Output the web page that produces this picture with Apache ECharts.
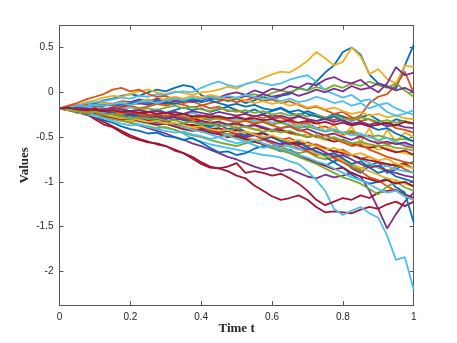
<!DOCTYPE html>
<html>
<head>
<meta charset="utf-8">
<script src="https://cdn.jsdelivr.net/npm/echarts@6/dist/echarts.min.js"></script>
<style>
  html, body { margin: 0; padding: 0; background: #fff; }
  #chart { width: 457px; height: 343px; }
</style>
</head>
<body>
<div id="chart"></div>
<script>
// sample times shared by every path
var times = [0,0.025,0.05,0.075,0.1,0.125,0.15,0.175,0.2,0.225,
             0.25,0.275,0.3,0.325,0.35,0.375,0.4,0.425,0.45,0.475,
             0.5,0.525,0.55,0.575,0.6,0.625,0.65,0.675,0.7,0.725,
             0.75,0.775,0.8,0.825,0.85,0.875,0.9,0.925,0.95,0.975,1];

var yTicks = [-2, -1.5, -1, -0.5, 0, 0.5];

// paths, grouped by matlab colour order
var bluePaths = [
  [-0.18,-0.17,-0.15,-0.12,-0.13,-0.09,-0.07,-0.04,-0.02,-0.04, 0.0,0.03,0.01,0.05,0.08,0.06,-0.03,-0.08,-0.06,-0.1, -0.07,-0.12,-0.09,-0.05,-0.08,-0.04,-0.02,0.05,0.02,0.12, 0.22,0.3,0.45,0.5,0.42,0.2,0.1,0.07,0.04,0.3, 0.53],
  [-0.18,-0.2,-0.18,-0.21,-0.19,-0.22,-0.2,-0.23,-0.21,-0.24, -0.22,-0.19,-0.23,-0.2,-0.17,-0.2,-0.18,-0.22,-0.19,-0.16, -0.2,-0.23,-0.19,-0.24,-0.21,-0.18,-0.23,-0.26,-0.21,-0.25, -0.29,-0.24,-0.27,-0.32,-0.28,-0.25,-0.31,-0.36,-0.3,-0.33, -0.35],
  [-0.18,-0.2,-0.22,-0.25,-0.27,-0.31,-0.34,-0.38,-0.41,-0.43, -0.46,-0.45,-0.49,-0.5,-0.53,-0.51,-0.56,-0.62,-0.67,-0.66, -0.7,-0.68,-0.63,-0.6,-0.62,-0.66,-0.64,-0.7,-0.74,-0.78, -0.82,-0.77,-0.74,-0.85,-0.9,-0.82,-0.78,-0.9,-0.86,-0.8, -0.78],
  [-0.18,-0.17,-0.19,-0.18,-0.21,-0.2,-0.23,-0.22,-0.25,-0.24, -0.27,-0.3,-0.28,-0.31,-0.29,-0.33,-0.35,-0.38,-0.36,-0.41, -0.39,-0.44,-0.47,-0.45,-0.5,-0.53,-0.57,-0.55,-0.62,-0.66, -0.72,-0.78,-0.84,-0.92,-0.98,-1.02,-1.0,-0.96,-1.06,-1.12, -1.45],
  [-0.18,-0.2,-0.22,-0.2,-0.23,-0.25,-0.24,-0.27,-0.26,-0.29, -0.31,-0.29,-0.33,-0.36,-0.34,-0.38,-0.36,-0.4,-0.43,-0.41, -0.45,-0.48,-0.46,-0.52,-0.5,-0.55,-0.58,-0.56,-0.61,-0.66, -0.7,-0.68,-0.74,-0.8,-0.77,-0.84,-0.9,-0.87,-0.94,-0.97, -1.0],
  [-0.18,-0.17,-0.15,-0.16,-0.14,-0.15,-0.13,-0.14,-0.12,-0.1, -0.12,-0.09,-0.11,-0.13,-0.1,-0.08,-0.11,-0.09,-0.12,-0.15, -0.13,-0.16,-0.14,-0.18,-0.2,-0.17,-0.22,-0.2,-0.24,-0.27, -0.3,-0.27,-0.32,-0.36,-0.33,-0.38,-0.42,-0.4,-0.46,-0.5, -0.55]
];
var orangePaths = [
  [-0.18,-0.19,-0.21,-0.19,-0.22,-0.24,-0.22,-0.25,-0.23,-0.26, -0.28,-0.26,-0.29,-0.27,-0.3,-0.32,-0.29,-0.31,-0.28,-0.3, -0.27,-0.3,-0.26,-0.29,-0.25,-0.28,-0.31,-0.27,-0.3,-0.33, -0.28,-0.31,-0.27,-0.3,-0.26,-0.12,-0.05,-0.02,0.08,0.23, -0.01],
  [-0.18,-0.15,-0.12,-0.08,-0.05,-0.02,0.03,0.05,0.01,0.03, -0.02,-0.05,-0.04,-0.09,-0.12,-0.1,-0.14,-0.18,-0.16,-0.21, -0.2,-0.24,-0.27,-0.25,-0.3,-0.28,-0.33,-0.36,-0.34,-0.4, -0.38,-0.43,-0.47,-0.45,-0.5,-0.48,-0.54,-0.58,-0.56,-0.6, -0.62],
  [-0.18,-0.2,-0.23,-0.22,-0.25,-0.27,-0.26,-0.29,-0.31,-0.3, -0.33,-0.35,-0.34,-0.37,-0.39,-0.38,-0.42,-0.4,-0.44,-0.47, -0.45,-0.48,-0.46,-0.5,-0.49,-0.53,-0.51,-0.56,-0.6,-0.58, -0.62,-0.66,-0.64,-0.7,-0.74,-0.72,-0.78,-0.82,-0.8,-0.86, -0.9],
  [-0.18,-0.19,-0.21,-0.24,-0.26,-0.25,-0.28,-0.3,-0.32,-0.31, -0.34,-0.36,-0.35,-0.38,-0.41,-0.4,-0.44,-0.43,-0.46,-0.5, -0.48,-0.52,-0.55,-0.53,-0.57,-0.6,-0.58,-0.63,-0.66,-0.7, -0.68,-0.74,-0.78,-0.84,-0.88,-0.95,-0.98,-1.05,-1.1,-1.16, -1.2],
  [-0.18,-0.16,-0.17,-0.14,-0.16,-0.13,-0.15,-0.17,-0.15,-0.18, -0.16,-0.13,-0.15,-0.12,-0.14,-0.17,-0.15,-0.12,-0.1,-0.08, -0.11,-0.09,-0.06,-0.1,-0.08,-0.12,-0.1,-0.14,-0.18,-0.16, -0.2,-0.24,-0.22,-0.28,-0.32,-0.3,-0.36,-0.34,-0.4,-0.42, -0.45],
  [-0.18,-0.2,-0.19,-0.21,-0.2,-0.18,-0.21,-0.23,-0.22,-0.24, -0.26,-0.24,-0.27,-0.25,-0.28,-0.3,-0.27,-0.25,-0.28,-0.31, -0.34,-0.32,-0.35,-0.33,-0.37,-0.4,-0.38,-0.42,-0.45,-0.5, -0.48,-0.52,-0.56,-0.6,-0.58,-0.64,-0.68,-0.72,-0.75,-0.78, -0.8]
];
var yellowPaths = [
  [-0.18,-0.16,-0.14,-0.11,-0.09,-0.06,-0.04,-0.05,-0.02,0.01, 0.03,0.0,-0.02,0.01,-0.01,-0.03,0.0,0.01,0.03,0.06, 0.04,0.09,0.12,0.16,0.2,0.23,0.22,0.28,0.35,0.45, 0.38,0.3,0.34,0.5,0.4,0.2,0.26,0.15,0.1,0.3, 0.28],
  [-0.18,-0.19,-0.21,-0.2,-0.23,-0.22,-0.25,-0.24,-0.27,-0.25, -0.28,-0.26,-0.29,-0.27,-0.31,-0.28,-0.3,-0.27,-0.31,-0.29, -0.33,-0.3,-0.34,-0.31,-0.36,-0.33,-0.38,-0.35,-0.4,-0.32, -0.44,-0.36,-0.5,-0.38,-0.56,-0.4,-0.6,-0.42,-0.55,-0.45, -0.5],
  [-0.18,-0.19,-0.18,-0.2,-0.22,-0.21,-0.23,-0.25,-0.24,-0.22, -0.25,-0.27,-0.26,-0.29,-0.31,-0.3,-0.33,-0.35,-0.34,-0.37, -0.36,-0.39,-0.42,-0.4,-0.44,-0.43,-0.46,-0.48,-0.47,-0.5, -0.53,-0.51,-0.55,-0.58,-0.56,-0.6,-0.64,-0.62,-0.66,-0.68, -0.7],
  [-0.18,-0.2,-0.22,-0.24,-0.26,-0.25,-0.28,-0.3,-0.32,-0.31, -0.34,-0.36,-0.35,-0.38,-0.4,-0.39,-0.42,-0.45,-0.44,-0.47, -0.46,-0.5,-0.53,-0.52,-0.55,-0.58,-0.6,-0.59,-0.64,-0.68, -0.72,-0.7,-0.76,-0.8,-0.84,-0.88,-0.92,-0.96,-0.98,-1.02, -1.05],
  [-0.18,-0.17,-0.15,-0.16,-0.14,-0.12,-0.13,-0.11,-0.12,-0.1, -0.08,-0.1,-0.07,-0.05,-0.07,-0.04,-0.06,-0.03,-0.05,-0.08, -0.06,-0.09,-0.12,-0.1,-0.13,-0.11,-0.15,-0.13,-0.17,-0.15, -0.19,-0.17,-0.21,-0.24,-0.22,-0.26,-0.24,-0.28,-0.26,-0.29, -0.3],
  [-0.18,-0.2,-0.21,-0.23,-0.22,-0.25,-0.27,-0.29,-0.28,-0.31, -0.33,-0.32,-0.35,-0.34,-0.37,-0.39,-0.38,-0.41,-0.43,-0.42, -0.45,-0.44,-0.47,-0.5,-0.48,-0.52,-0.55,-0.53,-0.57,-0.6, -0.64,-0.62,-0.66,-0.7,-0.68,-0.72,-0.76,-0.74,-0.8,-0.82, -0.85]
];
var purplePaths = [
  [-0.18,-0.17,-0.19,-0.21,-0.23,-0.26,-0.28,-0.31,-0.34,-0.37, -0.4,-0.43,-0.46,-0.5,-0.53,-0.57,-0.6,-0.64,-0.68,-0.72, -0.75,-0.79,-0.83,-0.86,-0.84,-0.88,-0.86,-0.9,-0.94,-0.96, -0.92,-0.95,-0.93,-0.9,-0.94,-1.1,-1.3,-1.52,-1.36,-1.22, -1.12],
  [-0.18,-0.17,-0.15,-0.16,-0.14,-0.12,-0.13,-0.1,-0.11,-0.08, -0.1,-0.07,-0.09,-0.06,-0.08,-0.1,-0.07,-0.04,-0.06,-0.02, 0.0,-0.03,0.02,-0.01,0.04,0.02,0.07,0.05,0.1,0.08, 0.14,0.17,0.12,0.1,0.14,0.06,0.0,0.1,0.28,0.19, 0.22],
  [-0.18,-0.19,-0.17,-0.16,-0.18,-0.15,-0.14,-0.16,-0.13,-0.12, -0.14,-0.11,-0.13,-0.1,-0.08,-0.11,-0.09,-0.06,-0.08,-0.05, -0.07,-0.04,-0.06,-0.02,-0.05,-0.03,0.0,-0.04,-0.01,0.03, 0.0,0.04,0.01,0.07,0.03,0.05,0.1,0.06,0.02,0.05, 0.0],
  [-0.18,-0.2,-0.21,-0.2,-0.23,-0.22,-0.24,-0.26,-0.25,-0.27, -0.29,-0.28,-0.3,-0.27,-0.31,-0.33,-0.32,-0.35,-0.33,-0.36, -0.34,-0.38,-0.36,-0.39,-0.42,-0.4,-0.38,-0.43,-0.41,-0.45, -0.48,-0.46,-0.5,-0.53,-0.49,-0.54,-0.57,-0.55,-0.58,-0.56, -0.6],
  [-0.18,-0.17,-0.2,-0.22,-0.24,-0.23,-0.26,-0.28,-0.3,-0.29, -0.32,-0.34,-0.33,-0.36,-0.38,-0.37,-0.4,-0.42,-0.45,-0.43, -0.47,-0.5,-0.48,-0.52,-0.55,-0.58,-0.56,-0.6,-0.64,-0.62, -0.67,-0.72,-0.7,-0.75,-0.8,-0.84,-0.82,-0.88,-0.9,-0.93, -0.95],
  [-0.18,-0.19,-0.17,-0.18,-0.2,-0.19,-0.17,-0.19,-0.21,-0.2, -0.22,-0.21,-0.23,-0.22,-0.24,-0.21,-0.23,-0.25,-0.22,-0.24, -0.26,-0.24,-0.27,-0.25,-0.28,-0.26,-0.29,-0.27,-0.3,-0.32, -0.3,-0.33,-0.31,-0.35,-0.33,-0.36,-0.34,-0.38,-0.36,-0.39, -0.4]
];
var greenPaths = [
  [-0.18,-0.17,-0.16,-0.17,-0.15,-0.14,-0.15,-0.13,-0.12,-0.13, -0.11,-0.12,-0.1,-0.09,-0.11,-0.08,-0.09,-0.06,-0.08,-0.05, -0.07,-0.04,-0.02,-0.05,-0.01,0.02,0.0,0.04,0.02,0.06, 0.03,0.08,0.05,0.1,0.07,0.12,0.08,0.05,0.1,0.02, -0.05],
  [-0.18,-0.19,-0.21,-0.2,-0.22,-0.24,-0.23,-0.21,-0.23,-0.25, -0.27,-0.25,-0.23,-0.25,-0.27,-0.26,-0.28,-0.3,-0.29,-0.31, -0.28,-0.32,-0.34,-0.33,-0.36,-0.34,-0.37,-0.4,-0.38,-0.41, -0.44,-0.42,-0.45,-0.43,-0.47,-0.5,-0.48,-0.51,-0.53,-0.52, -0.55],
  [-0.18,-0.2,-0.22,-0.24,-0.26,-0.28,-0.3,-0.32,-0.34,-0.36, -0.38,-0.4,-0.39,-0.42,-0.45,-0.48,-0.5,-0.53,-0.56,-0.58, -0.6,-0.57,-0.55,-0.58,-0.62,-0.6,-0.65,-0.68,-0.66,-0.72, -0.75,-0.72,-0.78,-0.82,-0.86,-0.8,-0.84,-0.88,-0.83,-0.78, -0.8],
  [-0.18,-0.19,-0.18,-0.2,-0.22,-0.24,-0.26,-0.25,-0.28,-0.3, -0.29,-0.32,-0.34,-0.36,-0.38,-0.37,-0.4,-0.42,-0.44,-0.47, -0.5,-0.53,-0.55,-0.58,-0.62,-0.65,-0.68,-0.72,-0.76,-0.8, -0.85,-0.9,-0.95,-0.98,-1.02,-1.08,-1.14,-1.05,-1.0,-1.06, -1.1],
  [-0.18,-0.17,-0.19,-0.18,-0.2,-0.19,-0.17,-0.19,-0.21,-0.19, -0.18,-0.2,-0.17,-0.15,-0.18,-0.16,-0.19,-0.21,-0.18,-0.2, -0.22,-0.2,-0.23,-0.21,-0.25,-0.23,-0.26,-0.24,-0.27,-0.25, -0.28,-0.26,-0.29,-0.31,-0.28,-0.3,-0.33,-0.31,-0.34,-0.32, -0.35],
  [-0.18,-0.19,-0.21,-0.23,-0.22,-0.25,-0.24,-0.27,-0.29,-0.28, -0.3,-0.29,-0.32,-0.31,-0.34,-0.33,-0.36,-0.35,-0.38,-0.37, -0.4,-0.38,-0.41,-0.44,-0.42,-0.45,-0.43,-0.47,-0.5,-0.48, -0.52,-0.5,-0.54,-0.57,-0.55,-0.58,-0.6,-0.59,-0.62,-0.63, -0.65]
];
var lightBluePaths = [
  [-0.18,-0.17,-0.15,-0.13,-0.11,-0.1,-0.08,-0.06,-0.07,-0.04, -0.05,-0.02,-0.03,0.0,0.01,0.0,0.05,0.09,0.12,0.08, 0.06,0.09,0.12,0.1,0.08,0.1,0.14,0.17,0.19,0.12, 0.02,-0.02,-0.06,-0.03,-0.1,-0.08,-0.14,-0.12,-0.18,-0.22, -0.25],
  [-0.18,-0.19,-0.21,-0.22,-0.24,-0.25,-0.27,-0.29,-0.31,-0.33, -0.35,-0.37,-0.4,-0.42,-0.46,-0.52,-0.55,-0.58,-0.6,-0.62, -0.64,-0.66,-0.68,-0.7,-0.71,-0.73,-0.77,-0.8,-0.88,-0.98, -1.1,-1.3,-1.37,-1.32,-1.28,-1.35,-1.4,-1.6,-1.87,-1.84, -2.2],
  [-0.18,-0.17,-0.19,-0.18,-0.16,-0.18,-0.2,-0.19,-0.17,-0.2, -0.22,-0.21,-0.24,-0.22,-0.25,-0.23,-0.26,-0.28,-0.26,-0.29, -0.31,-0.29,-0.32,-0.3,-0.34,-0.32,-0.36,-0.38,-0.36,-0.4, -0.43,-0.41,-0.45,-0.48,-0.46,-0.5,-0.53,-0.51,-0.56,-0.58, -0.6],
  [-0.18,-0.2,-0.22,-0.24,-0.27,-0.29,-0.32,-0.35,-0.37,-0.36, -0.39,-0.41,-0.43,-0.45,-0.44,-0.47,-0.49,-0.52,-0.5,-0.54, -0.57,-0.55,-0.59,-0.62,-0.6,-0.58,-0.61,-0.64,-0.63,-0.66, -0.7,-0.68,-0.72,-0.7,-0.75,-0.79,-0.84,-0.82,-0.86,-0.88, -0.9],
  [-0.18,-0.19,-0.2,-0.22,-0.24,-0.23,-0.26,-0.28,-0.3,-0.29, -0.32,-0.34,-0.33,-0.36,-0.39,-0.42,-0.44,-0.47,-0.5,-0.48, -0.52,-0.55,-0.53,-0.57,-0.6,-0.63,-0.66,-0.7,-0.73,-0.77, -0.8,-0.85,-0.9,-0.95,-0.98,-1.03,-1.08,-1.12,-1.1,-1.16, -1.2],
  [-0.18,-0.17,-0.15,-0.16,-0.14,-0.15,-0.13,-0.12,-0.14,-0.11, -0.1,-0.12,-0.09,-0.07,-0.09,-0.06,-0.08,-0.05,-0.07,-0.04, -0.06,-0.03,-0.05,-0.08,-0.06,-0.1,-0.07,-0.11,-0.09,-0.05, -0.08,-0.12,-0.1,-0.15,-0.12,-0.18,-0.14,-0.22,-0.26,-0.24, -0.2]
];
var darkRedPaths = [
  [-0.18,-0.19,-0.21,-0.24,-0.3,-0.36,-0.39,-0.45,-0.5,-0.53, -0.56,-0.57,-0.6,-0.64,-0.68,-0.72,-0.78,-0.83,-0.85,-0.88, -0.93,-0.96,-1.04,-1.1,-1.16,-1.2,-1.18,-1.15,-1.2,-1.28, -1.34,-1.33,-1.34,-1.35,-1.31,-1.28,-1.3,-1.25,-1.22,-1.27, -1.22],
  [-0.18,-0.2,-0.22,-0.25,-0.28,-0.33,-0.38,-0.43,-0.48,-0.52, -0.55,-0.58,-0.6,-0.65,-0.68,-0.74,-0.8,-0.84,-0.85,-0.83, -0.79,-0.9,-0.88,-0.9,-0.93,-0.91,-0.96,-1.02,-1.1,-1.2, -1.26,-1.22,-1.18,-1.2,-1.15,-1.18,-1.12,-1.1,-1.09,-1.14, -1.18],
  [-0.18,-0.17,-0.19,-0.2,-0.18,-0.21,-0.2,-0.22,-0.24,-0.23, -0.25,-0.27,-0.26,-0.28,-0.3,-0.29,-0.32,-0.34,-0.33,-0.36, -0.35,-0.38,-0.37,-0.4,-0.43,-0.42,-0.45,-0.47,-0.5,-0.48, -0.52,-0.55,-0.53,-0.57,-0.6,-0.62,-0.6,-0.64,-0.67,-0.65, -0.7],
  [-0.18,-0.2,-0.21,-0.24,-0.23,-0.26,-0.28,-0.3,-0.29,-0.32, -0.34,-0.36,-0.35,-0.38,-0.41,-0.43,-0.42,-0.45,-0.47,-0.5, -0.49,-0.52,-0.55,-0.58,-0.6,-0.63,-0.66,-0.7,-0.74,-0.78, -0.82,-0.86,-0.84,-0.9,-0.94,-0.97,-1.0,-0.98,-1.02,-1.0, -1.05],
  [-0.18,-0.19,-0.21,-0.2,-0.23,-0.25,-0.24,-0.27,-0.29,-0.28, -0.31,-0.33,-0.32,-0.35,-0.37,-0.36,-0.39,-0.41,-0.4,-0.43, -0.42,-0.45,-0.47,-0.46,-0.5,-0.52,-0.55,-0.58,-0.56,-0.6, -0.63,-0.66,-0.68,-0.7,-0.74,-0.76,-0.78,-0.8,-0.82,-0.8, -0.85],
  [-0.18,-0.17,-0.19,-0.2,-0.19,-0.21,-0.2,-0.22,-0.21,-0.23, -0.22,-0.24,-0.23,-0.25,-0.24,-0.27,-0.26,-0.28,-0.27,-0.29, -0.28,-0.3,-0.29,-0.31,-0.3,-0.33,-0.31,-0.34,-0.32,-0.35, -0.33,-0.36,-0.34,-0.37,-0.35,-0.38,-0.36,-0.34,-0.37,-0.33, -0.35]
];

var groups = [
  { color: '#0072BD', paths: bluePaths },
  { color: '#D95319', paths: orangePaths },
  { color: '#EDB120', paths: yellowPaths },
  { color: '#7E2F8E', paths: purplePaths },
  { color: '#77AC30', paths: greenPaths },
  { color: '#4DBEEE', paths: lightBluePaths },
  { color: '#A2142F', paths: darkRedPaths }
];

// interleave so the colours cycle like matlab plots them
var series = [];
for (var k = 0; k < 6; k++) {
    for (var g = 0; g < groups.length; g++) {
        var vals = groups[g].paths[k];
        var pts = [];
        for (var i = 0; i < times.length; i++) {
            pts.push([times[i], vals[i]]);
        }
        series.push({
            type: 'line',
            data: pts,
            showSymbol: false,
            silent: true,
            lineStyle: { color: groups[g].color, width: 1.8 },
            xAxisIndex: 0,
            yAxisIndex: 0
        });
    }
}

var axisColor = '#555';
var tickFont = { fontFamily: 'Liberation Sans', fontSize: 10, color: '#262626' };
var nameFont = { fontFamily: 'Liberation Serif', fontWeight: 'bold', fontSize: 13, color: '#262626' };
var lineOpt = { show: true, onZero: false, lineStyle: { color: axisColor, width: 1 } };

var chart = echarts.init(document.getElementById('chart'), null, { renderer: 'canvas' });
chart.setOption({
    animation: false,
    backgroundColor: '#fff',
    grid: { left: 59.5, right: 43.3, top: 25.7, bottom: 38, containLabel: false },
    xAxis: [{
        type: 'value', min: 0, max: 1, interval: 0.2,
        name: 'Time t', nameLocation: 'middle', nameGap: 17, nameMoveOverlap: false,
        nameTextStyle: nameFont,
        axisLine: lineOpt,
        axisTick: { show: true, inside: true, length: 4, lineStyle: { color: axisColor } },
        axisLabel: Object.assign({ margin: 7 }, tickFont),
        splitLine: { show: false }
    }, {
        type: 'value', min: 0, max: 1, interval: 0.2, position: 'top',
        axisLine: lineOpt,
        axisTick: { show: true, inside: true, length: 4, lineStyle: { color: axisColor } },
        axisLabel: { show: false },
        splitLine: { show: false }
    }],
    yAxis: [{
        type: 'value', min: -2.374, max: 0.743,
        name: 'Values', nameLocation: 'middle', nameGap: 28, nameRotate: 90, nameMoveOverlap: false,
        nameTextStyle: nameFont,
        axisLine: lineOpt,
        axisTick: { show: true, inside: true, length: 4, customValues: yTicks, lineStyle: { color: axisColor } },
        axisLabel: Object.assign({ margin: 6, customValues: yTicks }, tickFont),
        splitLine: { show: false }
    }, {
        type: 'value', min: -2.374, max: 0.743, position: 'right',
        axisLine: lineOpt,
        axisTick: { show: true, inside: true, length: 4, customValues: yTicks, lineStyle: { color: axisColor } },
        axisLabel: { show: false },
        splitLine: { show: false }
    }],
    series: series
});
</script>
</body>
</html>
